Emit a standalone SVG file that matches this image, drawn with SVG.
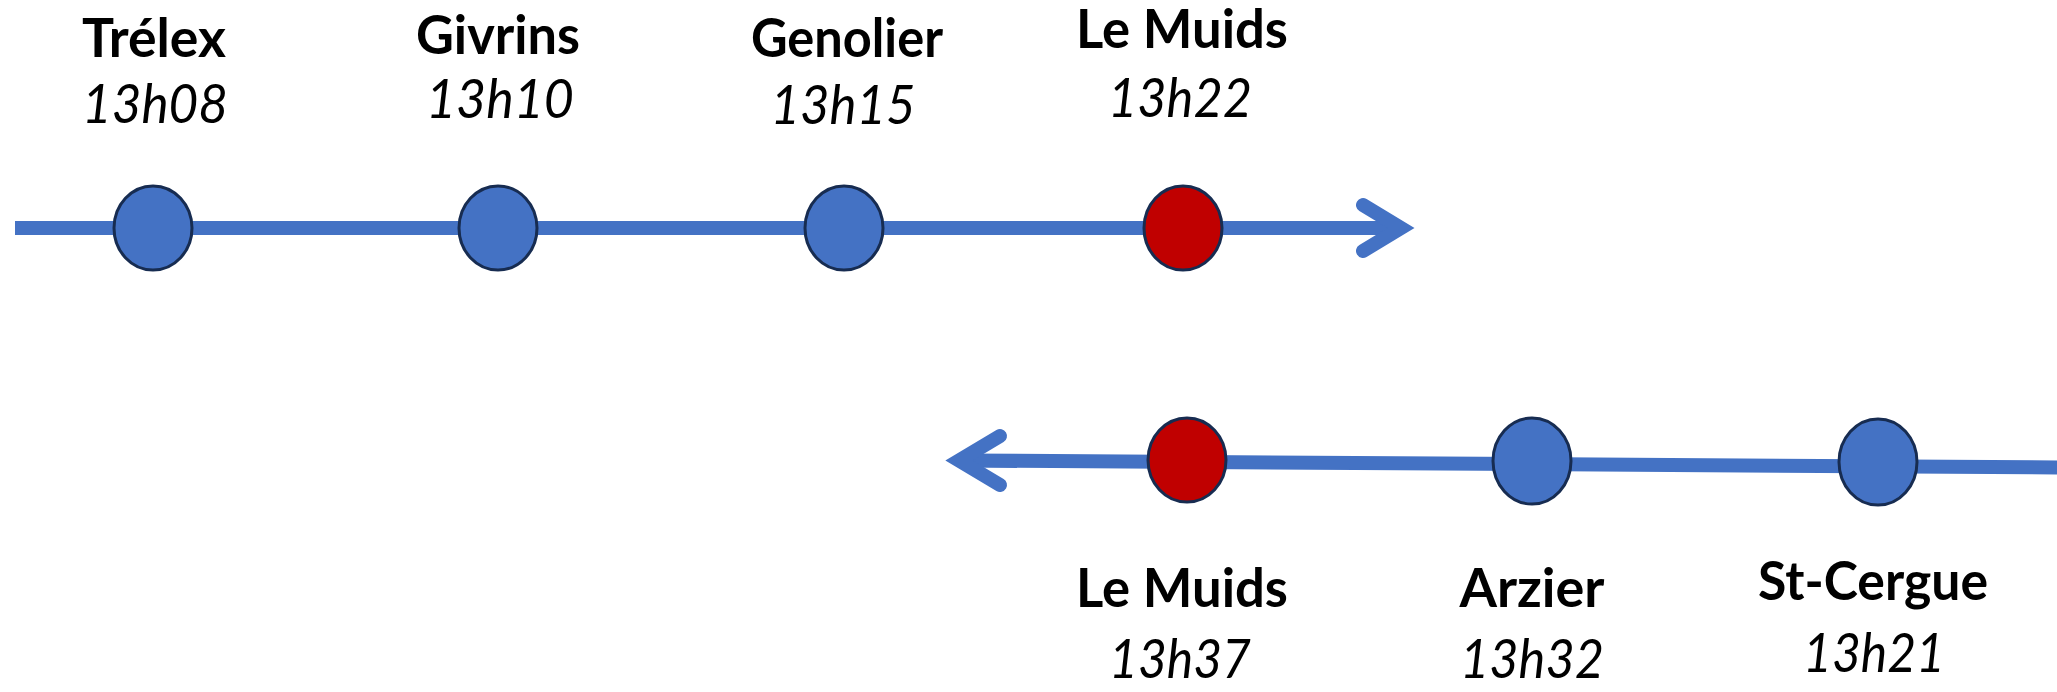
<svg xmlns="http://www.w3.org/2000/svg" width="2057" height="692" viewBox="0 0 2057 692">
<style>
.line{fill:none;stroke:#4472C4;stroke-width:14;stroke-linecap:butt}
.head{fill:none;stroke:#4472C4;stroke-width:14;stroke-linecap:round;stroke-linejoin:miter;stroke-miterlimit:10}
.stop{fill:#4472C4;stroke:#172C51;stroke-width:3}
.stop.red{fill:#C00000}
.name{font-family:Lato,"Liberation Sans",sans-serif;font-weight:bold;font-size:53px;fill:#000;text-anchor:middle}
.time{font-family:Lato,"Liberation Sans",sans-serif;font-style:italic;font-size:54px;fill:#000;text-anchor:middle}
</style>
<rect width="2057" height="692" fill="#fff"/>
<g id="connectors">
<line class="line" x1="15" y1="228" x2="1401" y2="228"/>
<polyline class="head" points="1363,205 1401,228 1363,251"/>
<line class="line" x1="2060" y1="467.5" x2="959" y2="460.5"/>
<polyline class="head" points="1000,436 959,460.5 1000,485"/>
</g>
<g id="trelex">
<ellipse class="stop" cx="153" cy="228" rx="39" ry="42"/>
<text class="name" x="154" y="57" textLength="144" lengthAdjust="spacingAndGlyphs">Trélex</text>
<text class="time" x="155" y="123" textLength="146" lengthAdjust="spacingAndGlyphs">13h08</text>
</g>
<g id="givrins">
<ellipse class="stop" cx="498" cy="228" rx="39" ry="42"/>
<text class="name" x="498" y="54" textLength="164" lengthAdjust="spacingAndGlyphs">Givrins</text>
<text class="time" x="500" y="118" textLength="148" lengthAdjust="spacingAndGlyphs">13h10</text>
</g>
<g id="genolier">
<ellipse class="stop" cx="844" cy="228" rx="39" ry="42"/>
<text class="name" x="847" y="57" textLength="192" lengthAdjust="spacingAndGlyphs">Genolier</text>
<text class="time" x="843" y="124" textLength="145" lengthAdjust="spacingAndGlyphs">13h15</text>
</g>
<g id="lemuids-aller">
<ellipse class="stop red" cx="1183" cy="228" rx="39" ry="42"/>
<text class="name" x="1182" y="48" textLength="212" lengthAdjust="spacingAndGlyphs">Le Muids</text>
<text class="time" x="1180" y="117" textLength="144" lengthAdjust="spacingAndGlyphs">13h22</text>
</g>
<g id="lemuids-retour">
<ellipse class="stop red" cx="1187" cy="460" rx="39" ry="42"/>
<text class="name" x="1182" y="607" textLength="212" lengthAdjust="spacingAndGlyphs">Le Muids</text>
<text class="time" x="1180" y="678" textLength="142" lengthAdjust="spacingAndGlyphs">13h37</text>
</g>
<g id="arzier">
<ellipse class="stop" cx="1532" cy="461" rx="39" ry="43"/>
<text class="name" x="1532" y="607" textLength="145" lengthAdjust="spacingAndGlyphs">Arzier</text>
<text class="time" x="1532" y="678" textLength="144" lengthAdjust="spacingAndGlyphs">13h32</text>
</g>
<g id="stcergue">
<ellipse class="stop" cx="1878" cy="462" rx="39" ry="43"/>
<text class="name" x="1873" y="600" textLength="230" lengthAdjust="spacingAndGlyphs">St-Cergue</text>
<text class="time" x="1874" y="672" textLength="142" lengthAdjust="spacingAndGlyphs">13h21</text>
</g>
</svg>
